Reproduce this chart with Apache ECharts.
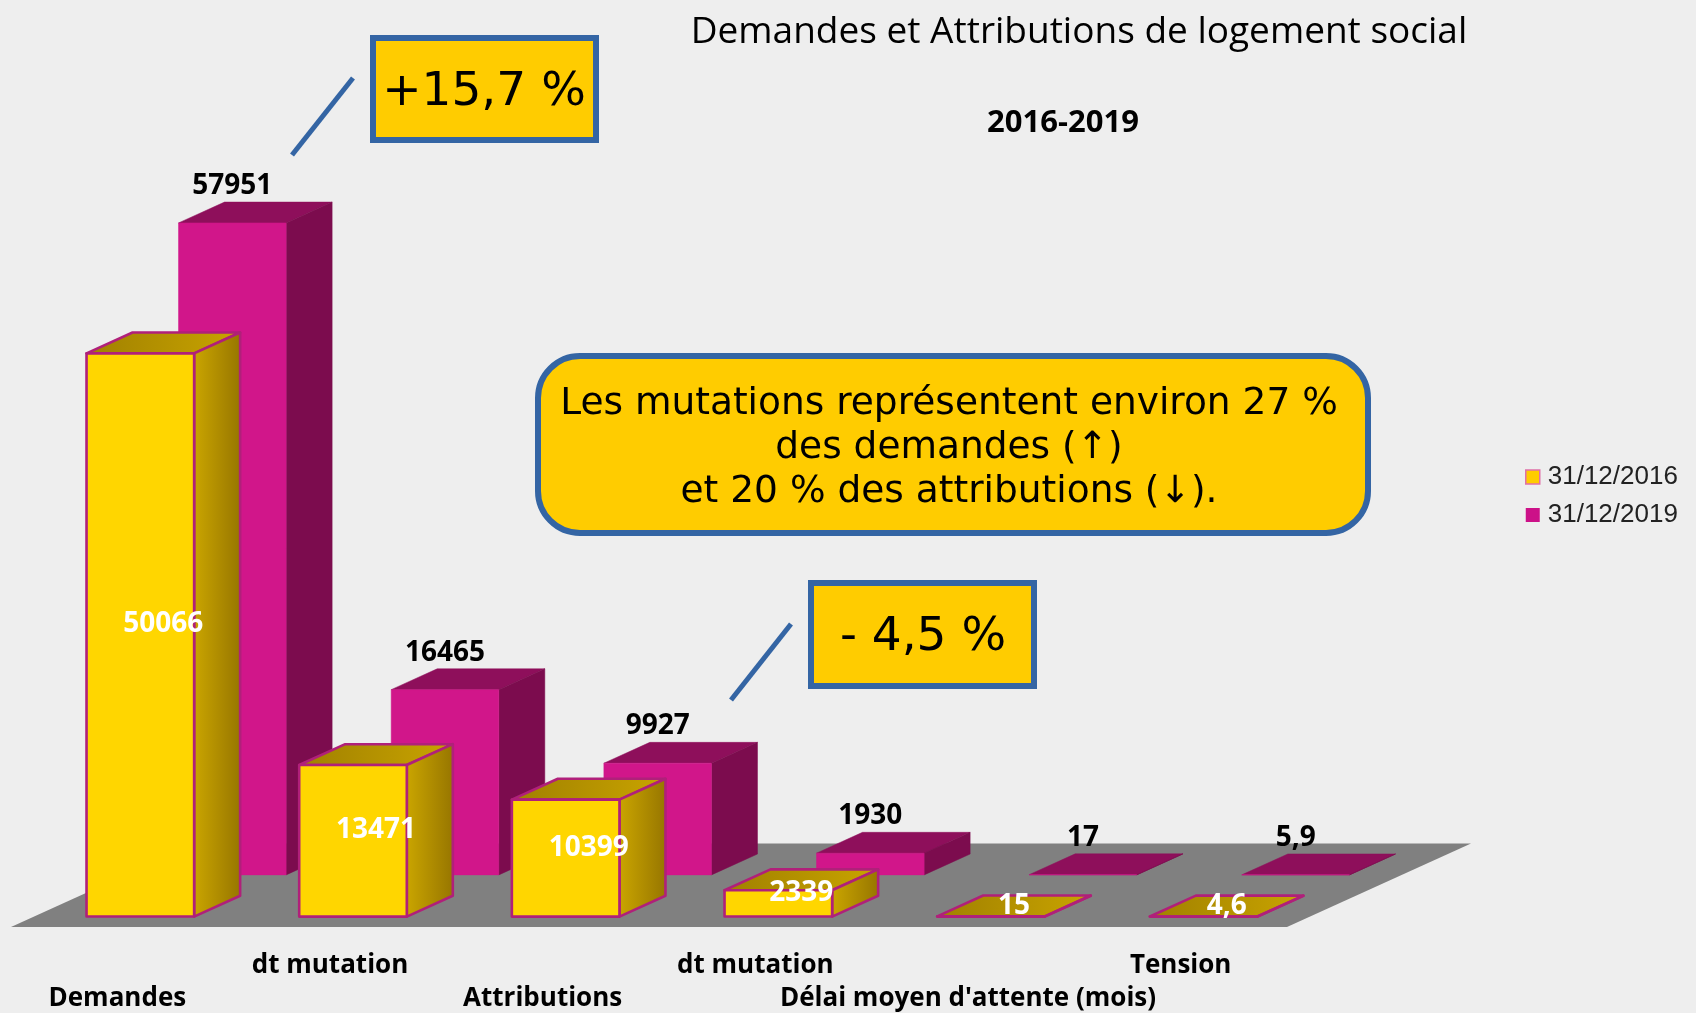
<!DOCTYPE html>
<html><head><meta charset="utf-8">
<script src="https://cdn.jsdelivr.net/npm/echarts@6/dist/echarts.min.js"></script>
<style>html,body{margin:0;padding:0;background:#EEEEEE;}#c{width:1696px;height:1013px;}</style>
</head><body><div id="c"></div>
<script>
const categories = ['Demandes', 'dt mutation', 'Attributions', 'dt mutation', "Délai moyen d'attente (mois)", 'Tension'];
const values2016 = [50066, 13471, 10399, 2339, 15, 4.6];
const values2019 = [57951, 16465, 9927, 1930, 17, 5.9];
const seriesNames = ['31/12/2016', '31/12/2019'];
const titleText = 'Demandes et Attributions de logement social';
const subtitleText = '2016-2019';
const noteMain = 'Les mutations représentent environ 27 %\ndes demandes (↑)\net 20 % des attributions (↓).';
const noteUp = '+15,7 %';
const noteDown = '- 4,5 %';

const UX = 46, UY = -20.85;     // oblique depth unit (px)
const BAR_RATIO = 0.506;
const FLOOR_DEPTH = 4;
const LABEL_FONT = '"Open Sans", sans-serif';
const fmt = v => String(v).replace('.', ',');

const yellowFaces = {
  front: '#FFD600',
  top: {type: 'linear', x: 0, y: 0, x2: 1, y2: 0, colorStops: [{offset: 0, color: '#A08000'}, {offset: 1, color: '#C9A400'}]},
  side: {type: 'linear', x: 0, y: 0, x2: 1, y2: 0, colorStops: [{offset: 0, color: '#CBA600'}, {offset: 1, color: '#967500'}]},
  stroke: '#B0207A', lineWidth: 2.6
};
const pinkFaces = {
  front: '#D1168A', top: '#8E0F5B', side: '#7C0C4E', stroke: null, lineWidth: 0
};

function makeBox(depthFront, faces, inside) {
  return function (params, api) {
    const i = api.value(0), v = api.value(1);
    const base = api.coord([i, 0]);
    const top = api.coord([i, v]);
    const bw = api.size([1, 0])[0] * BAR_RATIO;
    const x0 = base[0] - bw / 2 + depthFront * UX;
    const yb = base[1] + depthFront * UY;
    const yt = top[1] + depthFront * UY;
    const st = (fill) => faces.stroke ? {fill: fill, stroke: faces.stroke, lineWidth: faces.lineWidth, lineJoin: 'round'} : {fill: fill, stroke: fill, lineWidth: 0.5};
    const children = [
      {type: 'polygon', shape: {points: [[x0, yt], [x0 + bw, yt], [x0 + bw + UX, yt + UY], [x0 + UX, yt + UY]]}, style: st(faces.top)},
      {type: 'polygon', shape: {points: [[x0 + bw, yt], [x0 + bw + UX, yt + UY], [x0 + bw + UX, yb + UY], [x0 + bw, yb]]}, style: st(faces.side)},
      {type: 'rect', shape: {x: x0, y: yt, width: bw, height: Math.max(yb - yt, 0.01)}, style: st(faces.front)}
    ];
    let lx, ly, col;
    if (inside) {
      lx = x0 + bw / 2 + UX / 2; ly = (yt + yb) / 2 + UY / 2; col = '#FFFFFF';
    } else {
      lx = x0 + bw / 2; ly = yt + UY - 16; col = '#000000';
    }
    children.push({type: 'text', z2: 10, style: {text: fmt(v), x: lx, y: ly, align: 'center', verticalAlign: 'middle',
      fill: col, fontSize: 28, fontWeight: 'bold', fontFamily: LABEL_FONT}});
    return {type: 'group', children: children};
  };
}

function floorItem(params, api) {
  const b0 = api.coord([0, 0]);
  const bN = api.coord([categories.length - 1, 0]);
  const band = api.size([1, 0])[0];
  const l = b0[0] - band / 2, r = bN[0] + band / 2, y = b0[1];
  return {type: 'polygon', shape: {points: [[l, y], [r, y], [r + FLOOR_DEPTH * UX, y + FLOOR_DEPTH * UY], [l + FLOOR_DEPTH * UX, y + FLOOR_DEPTH * UY]]},
    style: {fill: '#808080'}};
}

const chart = echarts.init(document.getElementById('c'), null, {renderer: 'canvas'});
chart.setOption({
  backgroundColor: '#EEEEEE',
  animation: false,
  grid: {left: 11, right: 409, top: 139.5, bottom: 86, containLabel: false, outerBoundsMode: 'none'},
  xAxis: {
    type: 'category', data: categories,
    axisLine: {show: false}, axisTick: {show: false}, splitLine: {show: false},
    axisLabel: {
      interval: 0, margin: 22, color: '#000', fontSize: 26, fontWeight: 'bold', fontFamily: LABEL_FONT, lineHeight: 33,
      formatter: (val, idx) => (idx % 2 === 0 ? '\n' + val : val)
    }
  },
  yAxis: {type: 'value', min: 0, max: 70000, show: false, splitLine: {show: false}},
  legend: {
    orient: 'vertical', left: 1520, top: 459, itemWidth: 14, itemHeight: 14, itemGap: 12,
    textStyle: {fontFamily: '"Liberation Sans", Arial, sans-serif', fontSize: 26, color: '#222', lineHeight: 26, padding: [0, 0, 0, 3]},
    selectedMode: false,
    data: [
      {name: seriesNames[0], icon: 'rect', itemStyle: {color: '#FFCC00', borderColor: '#E070A8', borderWidth: 1.5}},
      {name: seriesNames[1], icon: 'rect', itemStyle: {color: '#CC1188'}}
    ]
  },
  series: [
    {type: 'custom', name: 'floor', clip: false, silent: true, data: [[0, 0]], renderItem: floorItem, z: 1},
    {type: 'custom', name: seriesNames[1], clip: false, itemStyle: {color: '#CC1188'},
      data: values2019.map((v, i) => [i, v]), renderItem: makeBox(2.5, pinkFaces, false), z: 2},
    {type: 'custom', name: seriesNames[0], clip: false, itemStyle: {color: '#FFCC00'},
      data: values2016.map((v, i) => [i, v]), renderItem: makeBox(0.5, yellowFaces, true), z: 3}
  ],
  graphic: [
    {type: 'text', x: 1079, y: 32, style: {text: titleText, align: 'center', verticalAlign: 'middle', fill: '#000', fontSize: 37, fontFamily: '"Open Sans", sans-serif'}},
    {type: 'text', x: 1063, y: 123, style: {text: subtitleText, align: 'center', verticalAlign: 'middle', fill: '#000', fontSize: 31, fontWeight: 'bold', fontFamily: '"Open Sans", sans-serif'}},
    {type: 'line', shape: {x1: 292, y1: 155, x2: 353, y2: 78}, style: {stroke: '#3465A4', lineWidth: 5}},
    {type: 'rect', shape: {x: 373, y: 38, width: 223, height: 102}, style: {fill: '#FFCC00', stroke: '#3465A4', lineWidth: 6}},
    {type: 'text', x: 484, y: 93, style: {text: noteUp, align: 'center', verticalAlign: 'middle', fill: '#000', fontSize: 47, fontFamily: '"DejaVu Sans", sans-serif'}},
    {type: 'rect', shape: {x: 538, y: 356, width: 830, height: 177, r: 42}, style: {fill: '#FFCC00', stroke: '#3465A4', lineWidth: 6}},
    {type: 'text', x: 949, y: 448, style: {text: noteMain, align: 'center', verticalAlign: 'middle', fill: '#000', fontSize: 37.5, lineHeight: 44, fontFamily: '"DejaVu Sans", sans-serif'}},
    {type: 'line', shape: {x1: 731, y1: 700, x2: 791, y2: 624}, style: {stroke: '#3465A4', lineWidth: 5}},
    {type: 'rect', shape: {x: 811, y: 583, width: 223, height: 103}, style: {fill: '#FFCC00', stroke: '#3465A4', lineWidth: 6}},
    {type: 'text', x: 923, y: 638, style: {text: noteDown, align: 'center', verticalAlign: 'middle', fill: '#000', fontSize: 47, fontFamily: '"DejaVu Sans", sans-serif'}}
  ]
});
</script></body></html>
